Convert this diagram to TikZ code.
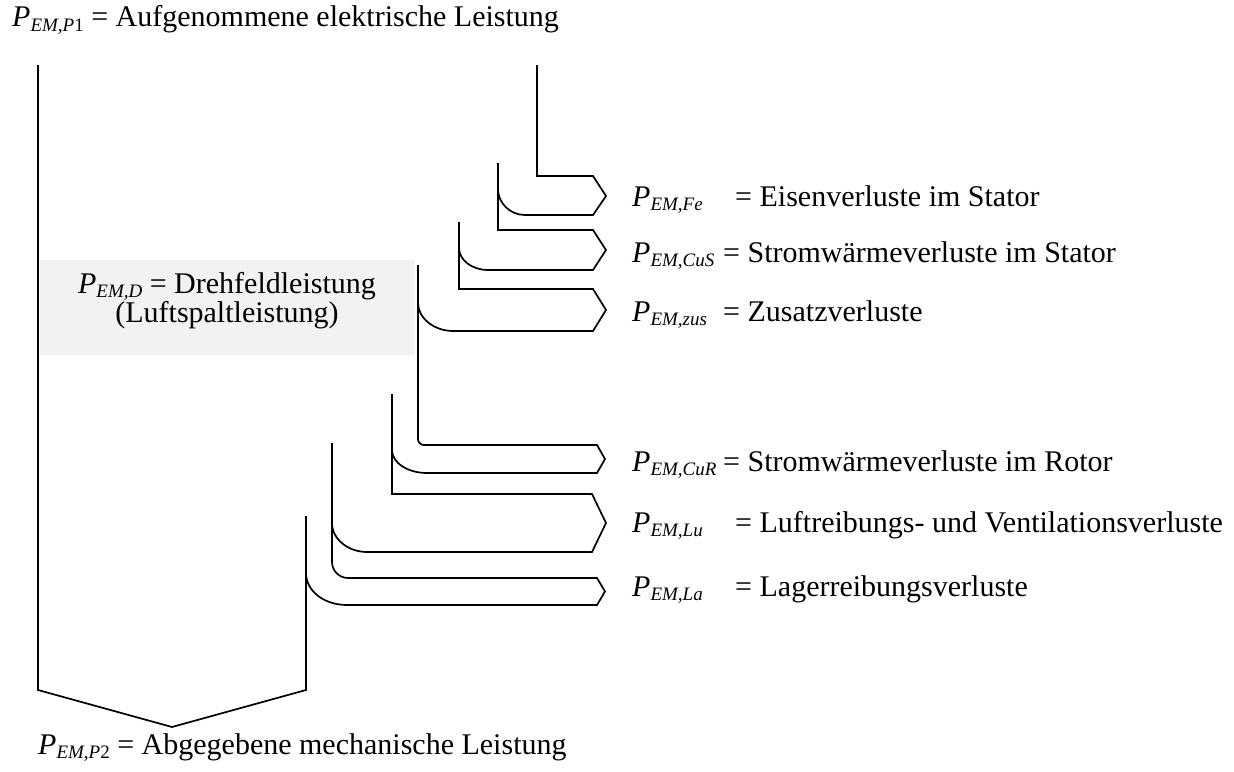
\documentclass[tikz,border=0pt]{standalone}
\usepackage{fontspec}
\setmainfont{Liberation Serif}
\definecolor{boxgray}{RGB}{242,242,242}
% power symbol P_{EM,...} with lowered italic subscript
\newcommand{\Pem}[1]{\textit{P}\raisebox{-4.5pt}{\fontsize{19}{19}\selectfont\textit{EM,#1}}}
\begin{document}
\begin{tikzpicture}[x=1pt,y=-1pt]
\tikzset{
  flow/.style={line width=1.7pt, line join=miter, draw=black},
  losstext/.style={inner sep=0pt, anchor=base west, font=\fontsize{30}{35}\selectfont},
  boxtext/.style={inner sep=0pt, anchor=base, font=\fontsize{30}{35}\selectfont}
}
\useasboundingbox (0,0) rectangle (1234,771);

% air-gap power band
\fill[boxgray] (40,260) rectangle (415,355);
\node[boxtext] (pd1) at (227,293) {\Pem{D} = Drehfeldleistung};
\node[boxtext] (pd2) at (227,322) {(Luftspaltleistung)};

% main band with output arrow
\draw[flow] (306,516) -- (306,690) -- (172,727) -- (38,690) -- (38,65);

% iron losses
\draw[flow] (537,65) -- (537,176) -- (593,176) -- (606,196) -- (593,215) -- (525,215)
  .. controls (510,215) and (498,203) .. (498,189);
% stator copper losses
\draw[flow] (498,163) -- (498,230) -- (593,230) -- (606,250) -- (593,270) -- (488,270)
  .. controls (472,270) and (459,260) .. (459,248);
% stray losses
\draw[flow] (459,222) -- (459,289) -- (593,289) -- (606,310) -- (593,331) -- (453,331)
  .. controls (434,331) and (418,318) .. (418,303);
% rotor copper losses
\draw[flow] (418,265) -- (418,439) .. controls (418,442.3) and (420.7,445) .. (424,445)
  -- (597,445) -- (605,459) -- (597,473) -- (427,473)
  .. controls (408,473) and (392,463) .. (392,450);
% windage and ventilation losses
\draw[flow] (392,394) -- (392,494) -- (592,494) -- (606,523) -- (592,552) -- (367,552)
  .. controls (348,552) and (332,539) .. (332,523);
% bearing friction losses
\draw[flow] (332,443) -- (332,562) .. controls (332,570.8) and (339.2,578) .. (348,578)
  -- (597,578) -- (605,591.5) -- (597,605) -- (347,605)
  .. controls (324,605) and (306,591) .. (306,573);

% input and output power
\node[losstext] (p1) at (12,27) {\Pem{P\textup{1}} = Aufgenommene elektrische Leistung};
\node[losstext] (p2) at (38,754) {\Pem{P\textup{2}} = Abgegebene mechanische Leistung};

% loss labels
\node[losstext] (fe)  at (632,206) {\makebox[103pt][l]{\Pem{Fe}}= Eisenverluste im Stator};
\node[losstext] (cus) at (632,262) {\makebox[91pt][l]{\Pem{CuS}}= Stromwärmeverluste im Stator};
\node[losstext] (zus) at (632,321) {\makebox[91pt][l]{\Pem{zus}}= Zusatzverluste};
\node[losstext] (cur) at (632,471) {\makebox[91pt][l]{\Pem{CuR}}= Stromwärmeverluste im Rotor};
\node[losstext] (lu)  at (632,532) {\makebox[103pt][l]{\Pem{Lu}}= Luftreibungs- und Ventilationsverluste};
\node[losstext] (la)  at (632,596) {\makebox[103pt][l]{\Pem{La}}= Lagerreibungsverluste};
\end{tikzpicture}
\end{document}
